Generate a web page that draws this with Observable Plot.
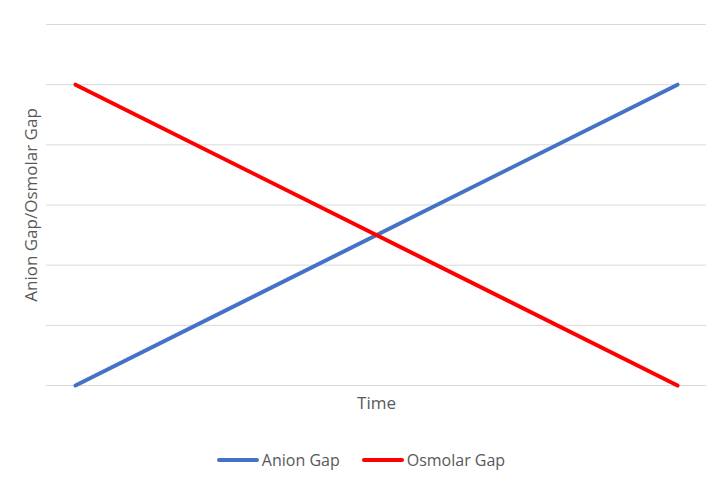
<!DOCTYPE html>
<html>
<head>
<meta charset="utf-8">
<script src="https://cdn.jsdelivr.net/npm/d3@7"></script>
<script src="https://cdn.jsdelivr.net/npm/@observablehq/plot@0.6"></script>
<style>
  html, body { margin: 0; padding: 0; background: #fff; }
  #wrap { position: relative; width: 722px; height: 495px; overflow: hidden; font-family: "Open Sans", sans-serif; }
  #legend { position: absolute; left: 0; width: 722px; top: 449px; display: flex; justify-content: center; align-items: center; gap: 22px; font-size: 16px; color: #595959; }
  .item { display: flex; align-items: center; }
  .sw { display: inline-block; width: 42px; height: 4px; border-radius: 2px; margin-right: 3px; }
</style>
</head>
<body>
<div id="wrap"><div id="chart"></div><div id="legend"></div></div>
<script>
const times = [0, 1];
const anionGap = [0, 5];
const osmolarGap = [5, 0];
const seriesNames = ["Anion Gap", "Osmolar Gap"];
const seriesColors = ["#4472C4", "#FF0000"];
const yTicks = [0, 1, 2, 3, 4, 5, 6];

const data = [];
times.forEach((t, i) => {
  data.push({time: t, value: anionGap[i], series: seriesNames[0]});
  data.push({time: t, value: osmolarGap[i], series: seriesNames[1]});
});

const chart = Plot.plot({
  width: 722,
  height: 425,
  marginLeft: 46,
  marginRight: 16,
  marginTop: 24,
  marginBottom: 40,
  style: {fontFamily: "Open Sans, sans-serif", fontSize: "15px", color: "#595959", background: "#fff"},
  x: {domain: [0, 1], insetLeft: 29, insetRight: 29},
  y: {domain: [0, 6]},
  color: {domain: seriesNames, range: seriesColors},
  marks: [
    Plot.gridY(yTicks, {stroke: "#d9d9d9", strokeOpacity: 1, strokeWidth: 1}),
    Plot.axisY({ticks: [], tickSize: 0, label: "Anion Gap/Osmolar Gap", labelAnchor: "center", labelArrow: "none", labelOffset: 22, fontSize: 17}),
    Plot.axisX({ticks: [], tickSize: 0, label: "Time", labelAnchor: "center", labelArrow: "none", labelOffset: 23, fontSize: 17}),
    Plot.line(data, {x: "time", y: "value", stroke: "series", strokeWidth: 4, strokeLinecap: "round"})
  ]
});
document.getElementById("chart").appendChild(chart);

const legend = document.getElementById("legend");
seriesNames.forEach((n, i) => {
  const it = document.createElement("div");
  it.className = "item";
  const sw = document.createElement("span");
  sw.className = "sw";
  sw.style.background = seriesColors[i];
  it.appendChild(sw);
  it.appendChild(document.createTextNode(n));
  legend.appendChild(it);
});
</script>
</body>
</html>
